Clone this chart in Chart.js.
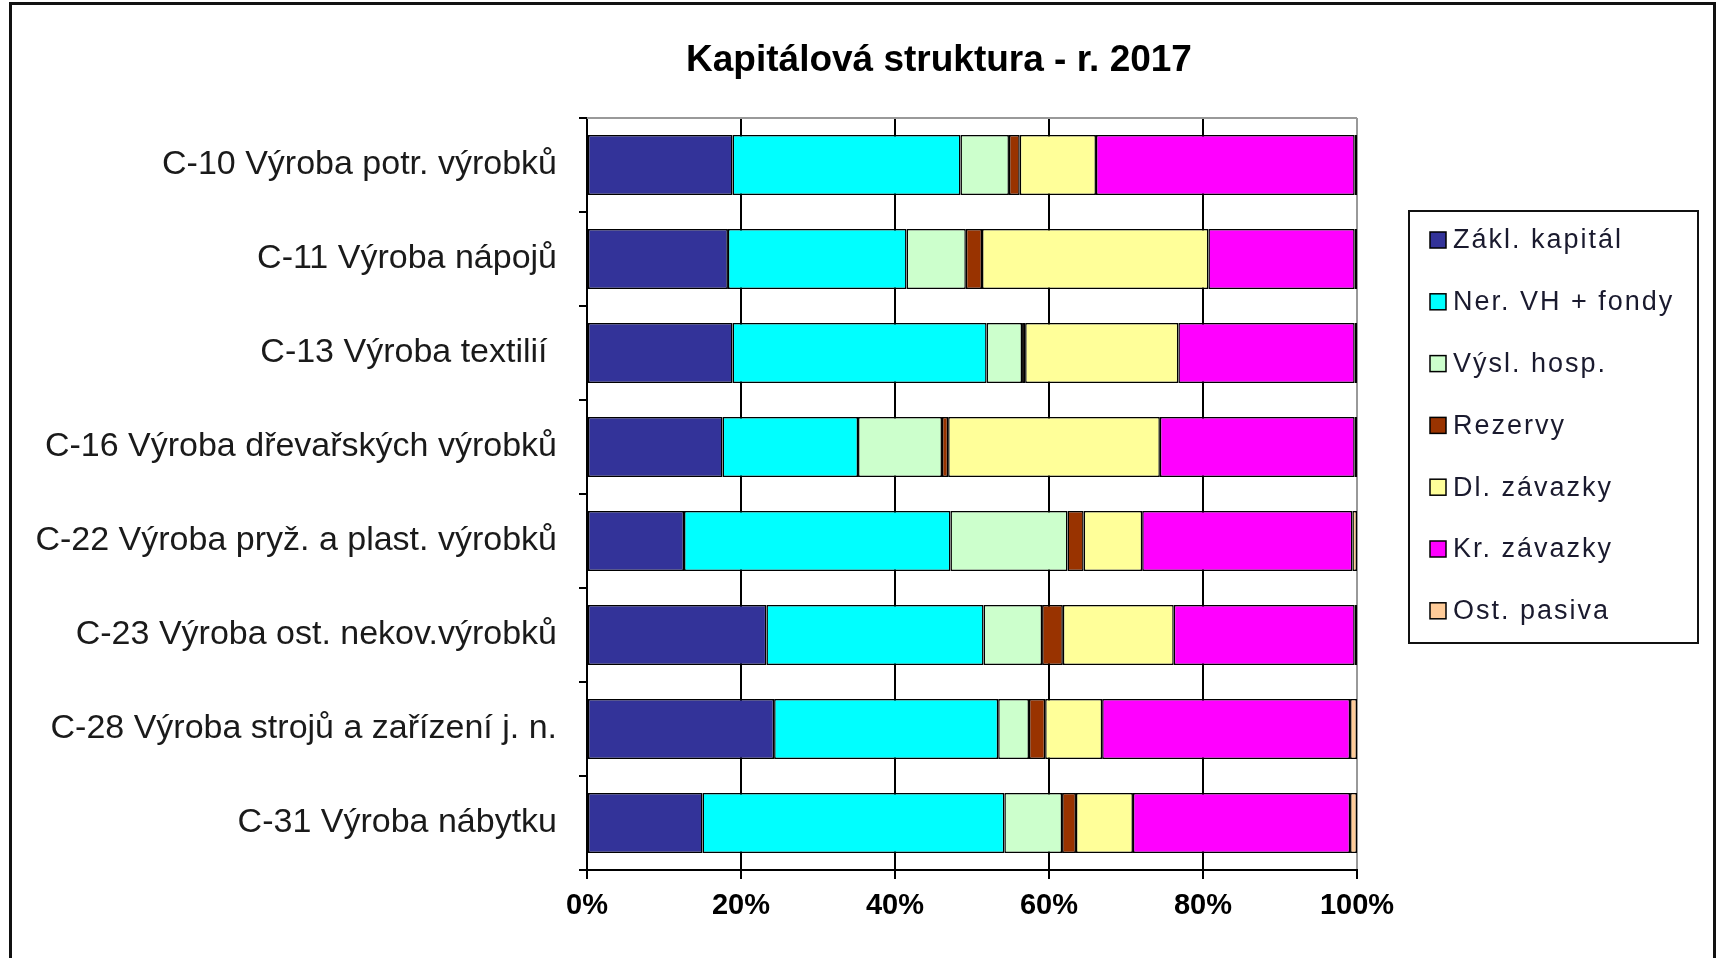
<!DOCTYPE html>
<html>
<head>
<meta charset="utf-8">
<script src="https://cdn.jsdelivr.net/npm/chart.js@4"></script>
<style>
  html, body { margin: 0; padding: 0; background: #fff; }
  #wrap { width: 1716px; height: 958px; }
</style>
</head>
<body>
<div id="wrap"><canvas id="chart"></canvas></div>
<script>
const title = "Kapitálová struktura - r. 2017";
const categories = [
  "C-10 Výroba potr. výrobků",
  "C-11 Výroba nápojů",
  "C-13 Výroba textilií ",
  "C-16 Výroba dřevařských výrobků",
  "C-22 Výroba pryž. a plast. výrobků",
  "C-23 Výroba ost. nekov.výrobků",
  "C-28 Výroba strojů a zařízení j. n.",
  "C-31 Výroba nábytku"
];
const seriesNames = ["Zákl. kapitál", "Ner. VH + fondy", "Výsl. hosp.", "Rezervy", "Dl. závazky", "Kr. závazky", "Ost. pasiva"];
const seriesColors = ["#333399", "#00FFFF", "#CCFFCC", "#993300", "#FFFF99", "#FF00FF", "#FFCC99"];

// shares in % per category
const zaklKapital = [18.9, 18.3, 18.9, 17.6, 12.6, 23.3, 24.3, 15.0];
const nerVhFondy  = [29.6, 23.2, 33.0, 17.6, 34.6, 28.2, 29.1, 39.2];
const vyslHosp    = [6.3, 7.7, 4.6, 10.9, 15.2, 7.6, 4.0, 7.5];
const rezervy     = [1.4, 2.1, 0.4, 0.8, 2.1, 2.7, 2.1, 1.8];
const dlZavazky   = [9.9, 29.4, 19.9, 27.5, 7.6, 14.4, 7.4, 7.4];
const krZavazky   = [33.6, 19.0, 22.9, 25.3, 27.3, 23.5, 32.2, 28.2];
const ostPasiva   = [0.3, 0.3, 0.3, 0.3, 0.6, 0.3, 0.9, 0.9];
const xTicks = ["0%", "20%", "40%", "60%", "80%", "100%"];

const seriesValues = [zaklKapital, nerVhFondy, vyslHosp, rezervy, dlZavazky, krZavazky, ostPasiva];

const decor = {
  id: "decor",
  beforeDraw(chart) {
    const c = chart.ctx;
    c.save();
    c.fillStyle = "#fff";
    c.fillRect(0, 0, chart.width, chart.height);
    c.strokeStyle = "#111";
    c.lineWidth = 3;
    c.beginPath();
    c.moveTo(10.5, 960);
    c.lineTo(10.5, 3.5);
    c.lineTo(1714.5, 3.5);
    c.lineTo(1714.5, 960);
    c.stroke();
    c.restore();
  },
  afterDatasetsDraw(chart) {
    const c = chart.ctx;
    const a = chart.chartArea;
    c.save();
    c.strokeStyle = "#999";
    c.lineWidth = 2;
    c.beginPath();
    c.moveTo(a.left, a.top);
    c.lineTo(a.right, a.top);
    c.stroke();
    c.restore();
  },
  afterDraw(chart) {
    const c = chart.ctx;
    c.save();
    // title
    c.fillStyle = "#000";
    c.font = "bold 37px 'Liberation Sans', Arial, sans-serif";
    c.textAlign = "center";
    c.textBaseline = "middle";
    c.fillText(title, 939, 61);
    // legend
    c.strokeStyle = "#111";
    c.lineWidth = 2;
    c.strokeRect(1409, 211, 289, 432);
    c.font = "27px 'Liberation Sans', Arial, sans-serif";
    c.letterSpacing = "2px";
    c.textAlign = "left";
    chart.data.datasets.forEach((ds, i) => {
      const y = 240 + i * 61.8;
      c.fillStyle = ds.backgroundColor;
      c.fillRect(1430, y - 8, 16, 16);
      c.strokeStyle = "#000";
      c.lineWidth = 1.5;
      c.strokeRect(1430, y - 8, 16, 16);
      c.fillStyle = "#1a1a2e";
      c.fillText(ds.label, 1453, y + 1);
    });
    c.restore();
  }
};

const ctx = document.getElementById("chart").getContext("2d");
new Chart(ctx, {
  type: "bar",
  data: {
    labels: categories,
    datasets: seriesNames.map((name, i) => ({
      label: name,
      data: seriesValues[i],
      backgroundColor: seriesColors[i],
      borderColor: "#000",
      borderWidth: 1.5,
      borderSkipped: false,
      barPercentage: 0.64,
      categoryPercentage: 1
    }))
  },
  options: {
    indexAxis: "y",
    responsive: true,
    maintainAspectRatio: false,
    animation: false,
    layout: { padding: { top: 118, right: 359, left: 0, bottom: 0 } },
    plugins: {
      legend: { display: false },
      title: { display: false },
      tooltip: { enabled: false }
    },
    scales: {
      x: {
        stacked: true,
        min: 0,
        max: 100,
        afterFit: (s) => { s.height = 88; },
        afterBuildTicks: (s) => { s.ticks = xTicks.map((t, i) => ({ value: i * 20 })); },
        ticks: {
          callback: (v) => xTicks[Math.round(v / 20)],
          color: "#000",
          font: { family: "'Liberation Sans', Arial, sans-serif", size: 29, weight: "bold" },
          padding: 10,
          maxRotation: 0
        },
        grid: {
          color: (c) => (c.tick && c.tick.value === 100 ? "#999" : "#000"),
          lineWidth: 2,
          tickLength: 9,
          tickColor: "#000"
        },
        border: { color: "#000", width: 2 }
      },
      y: {
        stacked: true,
        afterFit: (s) => { s.width = 587; },
        ticks: {
          color: "#1a1a1a",
          font: { family: "'Liberation Sans', Arial, sans-serif", size: 34 },
          padding: 22
        },
        grid: {
          drawOnChartArea: false,
          offset: true,
          tickLength: 8,
          color: "#000",
          lineWidth: 2
        },
        border: { color: "#000", width: 2 }
      }
    }
  },
  plugins: [decor]
});
</script>
</body>
</html>
